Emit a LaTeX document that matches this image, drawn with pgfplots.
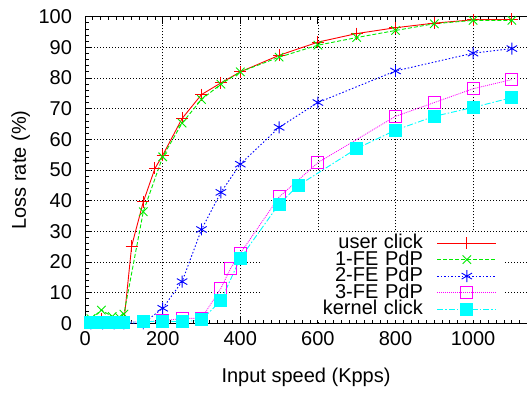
\documentclass[border=0pt]{standalone}
\usepackage{pgfplots}
\pgfplotsset{compat=1.18}
\usepackage{fontspec}
\setmainfont{Liberation Sans}
\definecolor{cred}{RGB}{255,0,0}
\definecolor{cgreen}{RGB}{0,235,0}
\definecolor{cblue}{RGB}{0,0,255}
\definecolor{cmag}{RGB}{255,0,255}
\definecolor{ccyan}{RGB}{0,255,255}
\begin{document}
\begin{tikzpicture}
\path[use as bounding box] (0,0) rectangle (527pt,395pt);
\begin{axis}[
  at={(85.1pt,71.7pt)}, anchor=south west,
  scale only axis, width=441.9pt, height=306.6pt,
  xmin=0, xmax=1139, ymin=0, ymax=100,
  clip=false,
  axis x line*=box, axis y line*=left,
  axis line style={line width=1pt, black},
  font=\fontsize{20}{24}\selectfont,
  /pgf/number format/assume math mode=true,
  /pgf/number format/1000 sep={},
  xtick={0,200,...,1000},
  ytick={0,10,...,100},
  minor xtick={0,20,...,1139},
  minor ytick={0,2,...,100},
  tick align=inside,
  tick style={black, line width=0.8pt},
  major tick length=7pt, minor tick length=3.5pt,
  grid=major,
  major grid style={black, dash pattern=on 0.8pt off 2.2pt, line width=0.6pt},
  yticklabel style={anchor=east, inner sep=0pt, xshift=-13pt},
  xticklabel style={anchor=north, inner sep=0pt, yshift=-8.4pt},
  xlabel={Input speed (Kpps)},
  ylabel={Loss rate (\%)},
  xlabel style={at={(axis description cs:0.5,0)}, anchor=base, yshift=-59.7pt},
  ylabel style={at={(axis description cs:0,0.5)}, anchor=base, yshift=59.1pt},
  legend plot pos=right,
  legend style={draw=none, fill=white, at={(0.9502,0.009)}, anchor=south east,
    inner xsep=8pt, inner ysep=3pt, row sep=0pt, column sep=14pt,
    nodes={text width=154pt, align=right, inner sep=0pt, text height=14pt, text depth=2.5pt}},
  legend image code/.code={\draw[mark repeat=2,mark phase=2] plot coordinates {(0pt,0pt) (29.5pt,0pt) (59pt,0pt)};},
]
\addplot[cred, line width=0.9pt, mark=+, mark size=6pt, mark options={solid}] coordinates {
(15,0.3) (42,1.5) (70,0.5) (100,0.5) (120,25.2) (150,39.6) (180,50.5) (200,54.8) (250,66.8) (300,74.6) (350,78.4) (400,82.0) (500,87.4) (600,91.7) (700,94.5) (800,96.4) (900,97.9) (1000,99.0) (1100,99.1)};
\addlegendentry{user click}
\addplot[cgreen, line width=0.9pt, dash pattern=on 4pt off 2pt, mark=x, mark size=6pt, mark options={solid}] coordinates {
(15,1.5) (42,4.3) (70,2.2) (88,2.0) (100,3.0) (150,36.4) (200,54.3) (250,65.3) (300,73.0) (350,78.0) (400,82.0) (500,86.8) (600,90.7) (700,93.2) (800,95.5) (900,97.7) (1000,98.8) (1100,98.8)};
\addlegendentry{1-FE PdP}
\addplot[cblue, line width=0.9pt, dash pattern=on 1.5pt off 2pt, mark=asterisk, mark size=6pt, mark options={solid}] coordinates {
(15,0) (45,0) (75,0) (100,0) (150,0) (200,4.9) (250,13.6) (300,30.6) (350,42.7) (400,51.9) (500,63.9) (600,72.0) (800,82.3) (1000,88.1) (1100,89.6)};
\addlegendentry{2-FE PdP}
\addplot[cmag, line width=0.8pt, dash pattern=on 1pt off 1pt, mark=square, mark size=6pt, mark options={solid, line width=1pt}] coordinates {
(15,0.3) (45,0.3) (75,0.3) (100,0.3) (150,0.5) (200,0.8) (250,1.6) (300,1.6) (350,11.4) (375,17.9) (400,22.8) (500,41.2) (600,52.4) (800,67.5) (900,72.0) (1000,76.5) (1100,79.5)};
\addlegendentry{3-FE PdP}
\addplot[ccyan, line width=0.9pt, dash pattern=on 6pt off 2pt on 1.5pt off 2pt, mark=square*, mark size=6pt, mark options={solid}] coordinates {
(15,0.3) (30,0.3) (45,0.3) (60,0.3) (75,0.3) (90,0.3) (100,0.3) (150,0.5) (200,0.7) (250,0.5) (300,1.1) (350,7.4) (400,21.2) (500,38.9) (550,45.0) (700,57.0) (800,63.0) (900,67.5) (1000,70.4) (1100,73.6)};
\addlegendentry{kernel click}
\end{axis}
\end{tikzpicture}
\end{document}
